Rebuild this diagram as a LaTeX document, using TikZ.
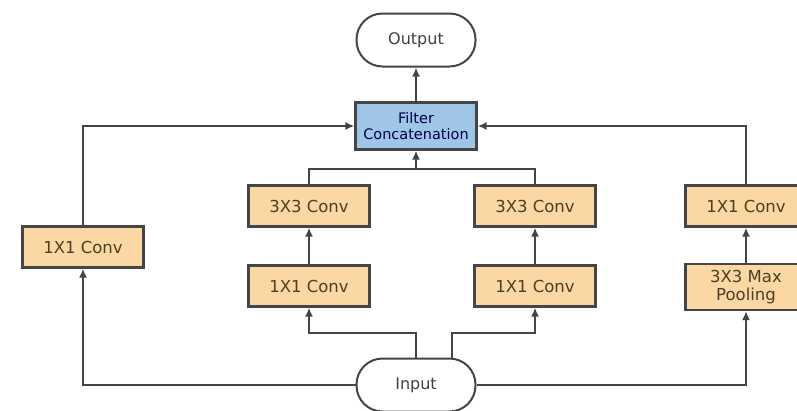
\documentclass[tikz,border=0pt]{standalone}
\usepackage{fontspec}
\setmainfont{DejaVu Sans}
\usepackage{tikz}
\usetikzlibrary{arrows.meta}

\definecolor{convfill}{HTML}{FBD7A3}
\definecolor{catfill}{HTML}{9FC6E6}
\definecolor{linegray}{HTML}{454545}
\definecolor{convtext}{HTML}{4E3E24}

\tikzset{
  convbox/.style={draw=linegray, line width=2.2pt, fill=convfill, text=convtext,
    minimum width=121pt, minimum height=41pt, inner sep=2pt, align=center,
    font=\fontsize{16.5}{18}\selectfont},
  catbox/.style={convbox, fill=catfill, text=black!70!blue, minimum height=47pt,
    font=\fontsize{14.5}{16.5}\selectfont},
  endbox/.style={draw=linegray, line width=2pt, fill=white, rounded corners=26pt,
    minimum width=119pt, minimum height=53pt, text=black!75,
    font=\fontsize{16}{18}\selectfont},
  link/.style={draw=linegray, line width=2.2pt},
  arr/.style={link, -{Latex[length=9pt,width=8pt]}}
}

\begin{document}
\begin{tikzpicture}[x=1pt,y=-1pt]
\useasboundingbox (0,0) rectangle (797,410);

\node[endbox] (out) at (416,40) {Output};
\node[catbox] (cat) at (416,126) {Filter\\Concatenation};

\node[convbox] (c1) at (83,247) {1X1 Conv};
\node[convbox] (c3a) at (309,206) {3X3 Conv};
\node[convbox] (c1a) at (309,286) {1X1 Conv};
\node[convbox] (c3b) at (535,206) {3X3 Conv};
\node[convbox] (c1b) at (535,286) {1X1 Conv};
\node[convbox] (c1c) at (746,206) {1X1 Conv};
\node[convbox, minimum height=46pt] (pool) at (746,287) {3X3 Max\\Pooling};

\node[endbox] (in) at (416,385) {Input};

\coordinate (jl) at (416,333);
\coordinate (jr) at (452,333);
\coordinate (jt) at (416,169);

% input to the four branches
\draw[arr] (in.west) -| (c1.south);
\draw[arr] (in.east) -| (pool.south);
\draw[arr] (in.north -| jl) -- (jl) -| (c1a.south);
\draw[arr] (in.north -| jr) -- (jr) -| (c1b.south);

\foreach \from/\to in {c1a/c3a,c1b/c3b,pool/c1c,cat/out}
\draw[arr] (\from) -- (\to);

% branches to the concatenation
\draw[arr] (c1.north) |- (cat.west);
\draw[arr] (c1c.north) |- (cat.east);
\draw[link] (c3a.north) |- (jt) -| (c3b.north);
\draw[arr] (jt) -- (cat.south);
\end{tikzpicture}
\end{document}
